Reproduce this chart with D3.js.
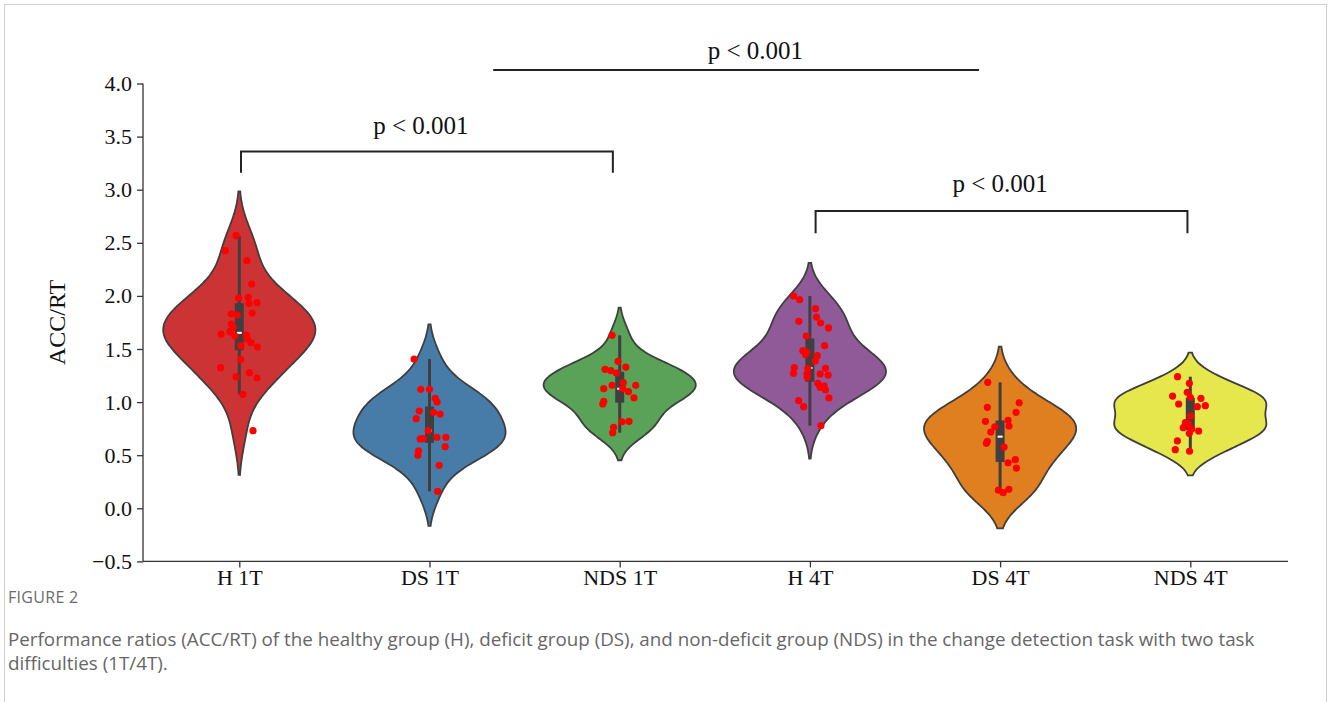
<!DOCTYPE html>
<html>
<head>
<meta charset="utf-8">
<script src="https://cdn.jsdelivr.net/npm/d3@7"></script>
<style>
  body { margin: 0; background: #fff; }
  svg { display: block; }
</style>
</head>
<body>
<div id="GraphHolder"></div>
<script>
// group names and colours (seaborn Set1, desaturated)
var groups = ["H 1T", "DS 1T", "NDS 1T", "H 4T", "DS 4T", "NDS 4T"];
var colors = ["#cb3334", "#477ca8", "#59a257", "#905998", "#df7f20", "#e6e64d"];

// ACC/RT values
var h1T = [2.567, 2.426, 2.332, 2.112, 1.980, 1.987, 1.930, 1.936, 1.839, 1.830, 1.820, 1.735, 1.704, 1.663,
           1.641, 1.622, 1.632, 1.594, 1.560, 1.531, 1.519, 1.400, 1.324, 1.239, 1.277, 1.227, 1.073, 0.731];
var ds1T = [1.406, 1.120, 1.120, 1.036, 1.001, 0.916, 0.904, 0.888, 0.844, 0.731, 0.653, 0.656, 0.669, 0.669,
            0.580, 0.540, 0.499, 0.405, 0.160];
var nds1T = [1.629, 1.384, 1.309, 1.296, 1.274, 1.330, 1.183, 1.158, 1.158, 1.126, 1.126, 1.098, 1.041, 1.007,
             0.982, 0.815, 0.819, 0.763, 0.712];
var h4T = [1.999, 1.964, 1.880, 1.801, 1.761, 1.745, 1.698, 1.622, 1.531, 1.484, 1.469, 1.446, 1.437, 1.387,
           1.324, 1.271, 1.318, 1.267, 1.234, 1.318, 1.265, 1.255, 1.177, 1.139, 1.152, 1.114, 1.039, 1.013,
           0.957, 0.778];
var ds4T = [1.186, 0.994, 0.951, 0.904, 0.819, 0.829, 0.775, 0.768, 0.718, 0.631, 0.612, 0.577, 0.458, 0.429,
            0.379, 0.172, 0.147, 0.179];
var nds4T = [1.239, 1.177, 1.092, 1.057, 1.045, 1.036, 0.982, 0.957, 0.966, 0.869, 0.806, 0.794, 0.759, 0.747,
             0.728, 0.706, 0.634, 0.552, 0.537];

// horizontal jitter of each point (fraction of a category step)
var h1TJit = [-0.017, -0.074, 0.040, 0.065, -0.004, 0.047, 0.051, 0.093, 0.068, -0.042, -0.011, -0.042, -0.032, -0.049,
              -0.096, -0.023, 0.037, 0.042, 0.061, 0.009, 0.095, 0.007, -0.098, -0.017, 0.053, 0.093, 0.019, 0.072];
var ds1TJit = [-0.081, -0.046, 0, 0.030, 0.040, -0.054, 0.021, 0.056, -0.070, -0.007, -0.049, -0.033, 0.039, 0.086,
               0.082, -0.058, -0.061, 0.051, 0.042];
var nds1TJit = [-0.040, -0.009, -0.077, -0.047, -0.018, 0.032, 0.019, -0.040, 0.084, -0.084, 0.016, 0.046, 0.075, -0.084,
                -0.089, 0.012, 0.049, -0.032, -0.037];
var h4TJit = [-0.086, -0.054, 0.030, 0.035, -0.058, 0.056, 0.098, -0.019, 0.077, -0.037, -0.016, -0.023, 0.039, 0.028,
              -0.082, -0.086, -0.011, -0.016, -0.014, 0.082, 0.054, 0.096, 0.042, 0.054, 0.075, 0.082, 0.100, -0.059,
              -0.033, 0.058];
var ds4TJit = [-0.065, 0.100, -0.067, 0.084, -0.077, 0.042, 0.047, -0.028, -0.049, -0.067, -0.072, 0.021, 0.080, 0.042,
               0.086, -0.009, 0.016, 0.046];
var nds4TJit = [-0.067, -0.005, -0.016, -0.093, 0, 0.056, -0.061, 0.037, 0.079, 0.002, -0.026, -0.009, -0.037, 0.007,
                0.044, -0.005, -0.068, -0.079, -0.004];

var yTicks = [-0.5, 0.0, 0.5, 1.0, 1.5, 2.0, 2.5, 3.0, 3.5, 4.0];

// significance annotations: category positions, bar level, tick drop, label position
var brackets = [
  {from: 0.009, to: 1.964, level: 3.36, drop: 0.20, label: "p < 0.001", labelX: 0.955, labelY: 3.52},
  {from: 3.03, to: 4.985, level: 2.80, drop: 0.21, label: "p < 0.001", labelX: 4.0, labelY: 2.98},
  {from: 1.335, to: 3.889, level: 4.127, drop: 0, label: "p < 0.001", labelX: 2.713, labelY: 4.23}
];

var captionTitle = "FIGURE 2";
var captionLines = [
  "Performance ratios (ACC/RT) of the healthy group (H), deficit group (DS), and non-deficit group (NDS) in the change detection task with two task",
  "difficulties (1T/4T)."
];

var series = [h1T, ds1T, nds1T, h4T, ds4T, nds4T];
var jitters = [h1TJit, ds1TJit, nds1TJit, h4TJit, ds4TJit, nds4TJit];

var W = 1328, H = 702;
var serif = "'Liberation Serif', 'Times New Roman', serif";
var sans = "'Open Sans', 'Noto Sans', sans-serif";
var ink = "#3f3f3f";

var svg = d3.select("#GraphHolder").append("svg")
    .attr("width", W)
    .attr("height", H);

// card frame
svg.append("rect")
    .attr("x", 4.5).attr("y", 4.5)
    .attr("width", 1322).attr("height", 720)
    .attr("fill", "#fff")
    .attr("stroke", "#cfcfcf");

// scales
var x = d3.scalePoint()
    .domain(d3.range(groups.length))
    .range([239.3, 1190.3]);
var step = x.step();
var xc = function(c) { return x(0) + c * step; };   // continuous category position
var y = d3.scaleLinear()
    .domain([-0.5, 4.0])
    .range([561.4, 83.5]);

// kernel density estimate, Scott's rule, cut = 2 bandwidths
function kde(values) {
  var n = values.length;
  var bw = d3.deviation(values) * Math.pow(n, -1 / 5);
  var lo = d3.min(values) - 2 * bw, hi = d3.max(values) + 2 * bw;
  return d3.range(100).map(function(i) {
    var g = lo + (hi - lo) * i / 99;
    var dens = d3.mean(values, function(v) {
      var u = (g - v) / bw;
      return Math.exp(-0.5 * u * u);
    });
    return [g, dens];
  });
}

var plot = svg.append("g");

series.forEach(function(vals, i) {
  var cx = x(i);
  var dens = kde(vals);
  var w = d3.scaleLinear()
      .domain([0, d3.max(dens, function(d) { return d[1]; })])
      .range([0, 0.4 * step]);

  var area = d3.area()
      .y(function(d) { return y(d[0]); })
      .x0(function(d) { return cx - w(d[1]); })
      .x1(function(d) { return cx + w(d[1]); })
      .curve(d3.curveCatmullRom);

  plot.append("path")
      .datum(dens)
      .attr("d", area)
      .attr("fill", colors[i])
      .attr("stroke", ink)
      .attr("stroke-width", 1.8);

  // inner box
  var sorted = vals.slice().sort(d3.ascending);
  var q1 = d3.quantile(sorted, 0.25),
      q2 = d3.quantile(sorted, 0.5),
      q3 = d3.quantile(sorted, 0.75);
  var lim = 1.5 * (q3 - q1);
  var lowW = d3.min(sorted.filter(function(v) { return v >= q1 - lim; }));
  var highW = d3.max(sorted.filter(function(v) { return v <= q3 + lim; }));

  plot.append("line")
      .attr("x1", cx).attr("x2", cx)
      .attr("y1", y(lowW)).attr("y2", y(highW))
      .attr("stroke", ink)
      .attr("stroke-width", 3);
  plot.append("rect")
      .attr("x", cx - 4.5).attr("width", 9)
      .attr("y", y(q3)).attr("height", y(q1) - y(q3))
      .attr("fill", ink);
  plot.append("rect")
      .attr("x", cx - 2.5).attr("width", 5)
      .attr("y", y(q2) - 1).attr("height", 2)
      .attr("fill", "#fff");
});

// strip plot on top
series.forEach(function(vals, i) {
  plot.selectAll(".pt" + i)
      .data(vals)
      .enter().append("circle")
      .attr("class", "pt" + i)
      .attr("cx", function(d, k) { return x(i) + jitters[i][k] * step; })
      .attr("cy", function(d) { return y(d); })
      .attr("r", 3.6)
      .attr("fill", "#ff0000");
});

// y axis
var yAxis = svg.append("g")
    .attr("transform", "translate(143,0)")
    .call(d3.axisLeft(y).tickValues(yTicks).tickFormat(d3.format(".1f")).tickSize(6).tickPadding(5));
yAxis.select(".domain").attr("stroke", "#333").attr("stroke-width", 1.3)
    .attr("d", "M0," + y(4.0) + "V" + y(-0.5));
yAxis.selectAll(".tick line").attr("stroke", "#333").attr("stroke-width", 1.3);
yAxis.selectAll("text")
    .attr("fill", "#111")
    .style("font-family", serif)
    .style("font-size", "22px");

// x axis
var xAxis = svg.append("g")
    .attr("transform", "translate(0," + y(-0.5) + ")")
    .call(d3.axisBottom(x).tickFormat(function(d) { return groups[d]; }).tickSize(6));
xAxis.select(".domain").attr("stroke", "#333").attr("stroke-width", 1.3)
    .attr("d", "M143,0H1288");
xAxis.selectAll(".tick line").attr("stroke", "#333").attr("stroke-width", 1.3);
xAxis.selectAll("text")
    .attr("y", 24)
    .attr("dy", null)
    .attr("fill", "#111")
    .style("font-family", serif)
    .style("font-size", "22px");

// y label
svg.append("text")
    .attr("transform", "translate(65," + y(1.75) + ") rotate(-90)")
    .attr("text-anchor", "middle")
    .attr("fill", "#111")
    .style("font-family", serif)
    .style("font-size", "24px")
    .text("ACC/RT");

// significance brackets
brackets.forEach(function(b) {
  var x1 = xc(b.from), x2 = xc(b.to), yl = y(b.level), yd = y(b.level - b.drop);
  svg.append("path")
      .attr("d", "M" + x1 + "," + yd + "V" + yl + "H" + x2 + "V" + yd)
      .attr("fill", "none")
      .attr("stroke", "#222")
      .attr("stroke-width", 2);
  svg.append("text")
      .attr("x", xc(b.labelX))
      .attr("y", y(b.labelY))
      .attr("text-anchor", "middle")
      .attr("fill", "#111")
      .style("font-family", serif)
      .style("font-size", "25px")
      .text(b.label);
});

// caption
svg.append("text")
    .attr("x", 8).attr("y", 603)
    .attr("fill", "#6b6b6b")
    .style("font-family", sans)
    .style("font-size", "16px")
    .style("letter-spacing", "0.3px")
    .text(captionTitle);
svg.selectAll(".cap")
    .data(captionLines)
    .enter().append("text")
    .attr("class", "cap")
    .attr("x", 8)
    .attr("y", function(d, i) { return 646 + i * 24; })
    .attr("fill", "#666")
    .style("font-family", sans)
    .style("font-size", "18.8px")
    .text(function(d) { return d; });
</script>
</body>
</html>
